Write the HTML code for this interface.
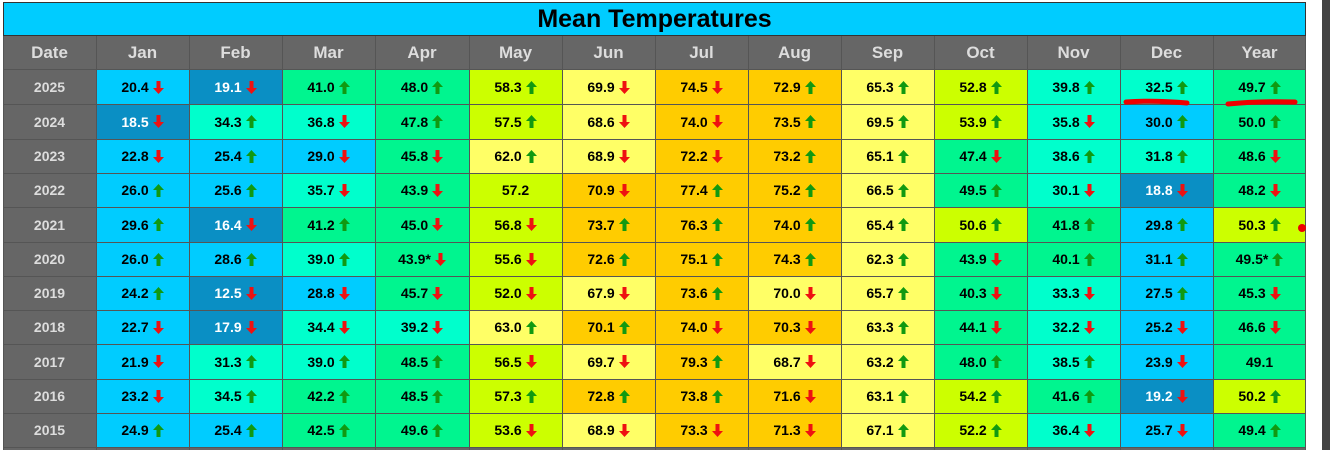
<!DOCTYPE html>
<html><head><meta charset="utf-8"><style>
body{margin:0;width:1330px;height:450px;background:#fff;overflow:hidden;position:relative;font-family:"Liberation Sans",Arial,sans-serif;}
.c{position:absolute;box-sizing:border-box;display:flex;align-items:center;justify-content:center;font-weight:bold;font-size:14px;color:#000;}
.h{background:#666;color:#ddd;font-size:17px;}
.d{background:#666;color:#ddd;font-size:14px;}
svg.a{margin-left:4px;}
.lv{position:absolute;width:1px;background:#555;}
.lh{position:absolute;height:1px;background:#555;}
</style></head><body>
<div style="position:absolute;left:3px;top:2px;width:1303px;height:34px;background:#00ccff;border:1px solid #333;box-sizing:border-box;display:flex;align-items:center;justify-content:center;font-weight:bold;font-size:25px;color:#000;">Mean Temperatures</div>
<div style="position:absolute;left:1306px;top:0;width:17px;height:450px;background:#fff"></div>
<div style="position:absolute;left:1322px;top:0;width:8px;height:450px;background:#444"></div>
<div id="t"></div>
<script>
const cols=["Date","Jan","Feb","Mar","Apr","May","Jun","Jul","Aug","Sep","Oct","Nov","Dec","Year"];
const data={
2025:"20.4d 19.1d 41.0u 48.0u 58.3u 69.9d 74.5d 72.9u 65.3u 52.8u 39.8u 32.5u 49.7u",
2024:"18.5d 34.3u 36.8d 47.8u 57.5u 68.6d 74.0d 73.5u 69.5u 53.9u 35.8d 30.0u 50.0u",
2023:"22.8d 25.4u 29.0d 45.8d 62.0u 68.9d 72.2d 73.2u 65.1u 47.4d 38.6u 31.8u 48.6d",
2022:"26.0u 25.6u 35.7d 43.9d 57.2n 70.9d 77.4u 75.2u 66.5u 49.5u 30.1d 18.8d 48.2d",
2021:"29.6u 16.4d 41.2u 45.0d 56.8d 73.7u 76.3u 74.0u 65.4u 50.6u 41.8u 29.8u 50.3u",
2020:"26.0u 28.6u 39.0u 43.9*d 55.6d 72.6u 75.1u 74.3u 62.3u 43.9d 40.1u 31.1u 49.5*u",
2019:"24.2u 12.5d 28.8d 45.7d 52.0d 67.9d 73.6u 70.0d 65.7u 40.3d 33.3d 27.5u 45.3d",
2018:"22.7d 17.9d 34.4d 39.2d 63.0u 70.1u 74.0d 70.3d 63.3u 44.1d 32.2d 25.2d 46.6d",
2017:"21.9d 31.3u 39.0u 48.5u 56.5d 69.7d 79.3u 68.7d 63.2u 48.0u 38.5u 23.9d 49.1n",
2016:"23.2d 34.5u 42.2u 48.5u 57.3u 72.8u 73.8u 71.6d 63.1u 54.2u 41.6u 19.2d 50.2u",
2015:"24.9u 25.4u 42.5u 49.6u 53.6d 68.9d 73.3d 71.3d 67.1u 52.2u 36.4d 25.7d 49.4u"};
function col(v,ci){if(v<20)return["#0a8fc4","#fff"];if(v<=30||(ci==12&&v<31.5))return["#00ccff","#000"];if(v<=40)return["#00ffcc","#000"];if(v<=50)return["#00f58f","#000"];if(v<=60)return["#ccff00","#000"];if(v<=70)return["#ffff66","#000"];return["#ffcc00","#000"];}
const up='<svg class="a" width="11" height="13" viewBox="0 0 11 13"><path d="M5.5 0L11 6H7.5V13H3.5V6H0Z" fill="#119911"/></svg>';
const dn='<svg class="a" width="11" height="13" viewBox="0 0 11 13"><path d="M5.5 13L11 7H7.5V0H3.5V7H0Z" fill="#ee1111"/></svg>';
const X=i=>Math.round(3+i*93.1), Y=r=>r<0?36:Math.round(70+r*34.3);
let h="";
cols.forEach((c,i)=>{h+=`<div class="c h" style="left:${X(i)}px;top:36px;width:${X(i+1)-X(i)}px;height:34px">${c}</div>`;});
let r=0;for(let y=2025;y>=2015;y--){const t=Y(r),hh=Y(r+1)-t;
h+=`<div class="c d" style="left:${X(0)}px;top:${t}px;width:${X(1)-X(0)}px;height:${hh}px">${y}</div>`;
data[y].split(" ").forEach((s,i)=>{const a=s.slice(-1),txt=s.slice(0,-1),v=parseFloat(txt);const [bg,fg]=col(v,i+1);
h+=`<div class="c" style="left:${X(i+1)}px;top:${t}px;width:${X(i+2)-X(i+1)}px;height:${hh}px;background:${bg};color:${fg}">${txt}${a=='u'?up:a=='d'?dn:''}</div>`;});r++;}
h+=`<div style="position:absolute;left:3px;top:447px;width:1303px;height:3px;background:#666"></div>`;
for(let i=0;i<=14;i++)h+=`<div class="lv" style="left:${Math.min(X(i),1305)}px;top:36px;height:414px"></div>`;
for(let k=0;k<=11;k++)h+=`<div class="lh" style="left:3px;top:${Y(k)-(k==0?1:0)}px;width:1303px"></div>`;
document.getElementById("t").innerHTML=h;
</script>
<svg style="position:absolute;left:0;top:0" width="1330" height="450">
<path d="M1126 102 Q1155 100 1187 103" stroke="#ee0000" stroke-width="5" fill="none" stroke-linecap="round"/>
<path d="M1228 104 Q1260 101 1295 102" stroke="#ee0000" stroke-width="5" fill="none" stroke-linecap="round"/>
<circle cx="1302" cy="228" r="4" fill="#ee0000"/>
</svg>
</body></html>
